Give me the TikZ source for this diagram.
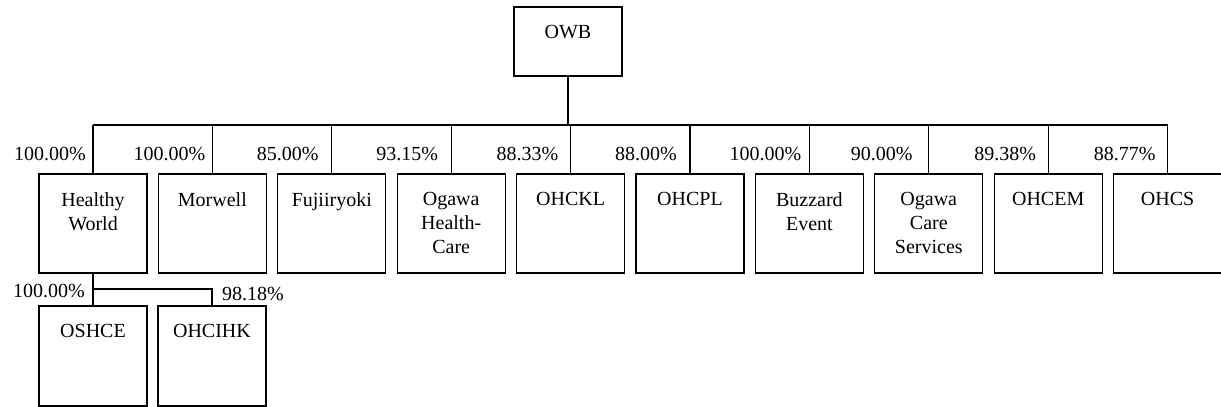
\documentclass[tikz,border=0pt]{standalone}
\usepackage{fontspec}
\setmainfont{Liberation Serif}

\tikzset{
  company/.style={draw, line width=1.1pt, minimum width=108pt, minimum height=99pt, inner sep=0pt},
  cname/.style={anchor=north, yshift=-19pt, align=center, inner sep=0pt, font=\fontsize{20}{24}\selectfont},
  pct/.style={inner sep=0pt, font=\fontsize{20}{24}\selectfont},
  link/.style={line width=1.1pt}
}

\begin{document}
\begin{tikzpicture}[x=1pt, y=-1pt]
            \useasboundingbox (0,0) rectangle (1221,407);
            \node[company, minimum height=69pt, label={[cname, name=towb]north:OWB}] (owb) at (568,41.5) {};
            \coordinate (bus) at (0,125);
            \foreach \i/\cText/\cPct/\cGap in {0/{Healthy\\World}/100.00/7, 1/Morwell/100.00/7, 2/Fujiiryoki/85.00/13,
                3/{Ogawa\\Health-\\Care}/93.15/13, 4/OHCKL/88.33/12, 5/OHCPL/88.00/13, 6/{Buzzard\\Event}/100.00/8,
                7/{Ogawa\\Care\\Services}/90.00/16, 8/OHCEM/89.38/12, 9/OHCS/88.77/12} {
                \pgfmathsetmacro\cX{93+119.4*\i}
                \node[company, label={[cname, name=t\i]north:\cText}] (c\i) at (\cX,223.5) {};
                \draw[link] (c\i.north) -- (c\i.north |- bus);
                \node[pct, anchor=east, xshift=-\cGap, yshift=19pt] (p\i) at (c\i.north) {\cPct\%};
            }
            \draw[link] (c0.north |- bus) -- (c9.north |- bus);
            \draw[link] (owb.south) -- (owb.south |- bus);
            % second level under Healthy World
            \node[company, minimum height=100pt, label={[cname, name=toshce]north:OSHCE}] (oshce) at (93,356) {};
            \node[company, minimum height=100pt, label={[cname, name=tohcihk]north:OHCIHK}] (ohcihk) at (212,356) {};
            \coordinate (split) at (93,289);
            \draw[link] (c0.south) -- (oshce.north);
            \draw[link] (split) -| (ohcihk.north);
            \node[pct, anchor=east, xshift=-8pt, yshift=-2pt] (q0) at (split) {100.00\%};
            \node[pct, anchor=west, xshift=10pt, yshift=11pt] (q1) at (ohcihk.north) {98.18\%};
        \end{tikzpicture}
\end{document}
